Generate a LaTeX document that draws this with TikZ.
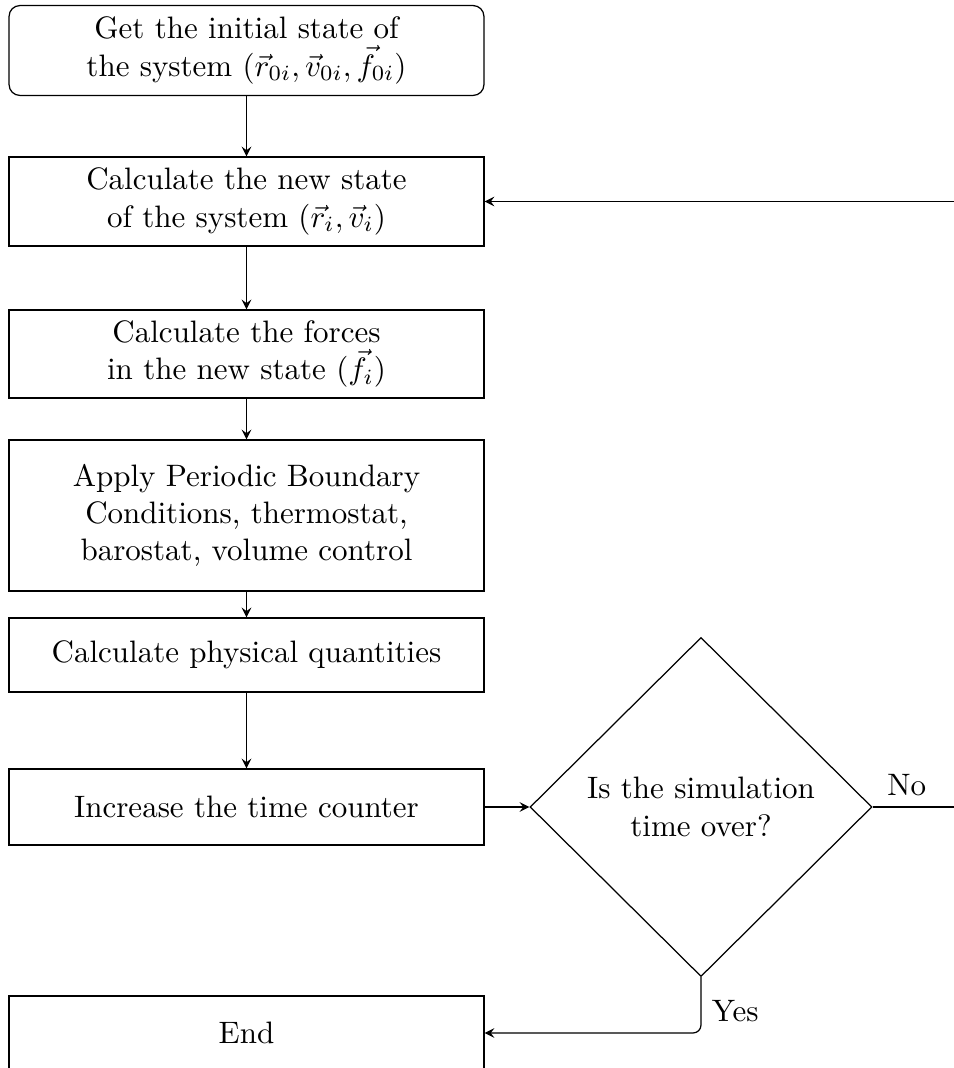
\documentclass[tikz,border=0pt]{standalone}
\usetikzlibrary{shapes.geometric,arrows}
\begin{document}
\begin{tikzpicture}[x=0.3226pt,y=-0.3226pt,
  block/.style={draw, rectangle, minimum width=153.2pt, inner sep=2pt, align=center},
  blockr/.style={block, rounded corners=3.5pt},
  dec/.style={draw, diamond, minimum width=110.3pt, minimum height=109.4pt, inner sep=0pt, align=center},
  arr/.style={-stealth}]
\useasboundingbox (0,0) rectangle (954,1068);
\clip (0,0) rectangle (954,1068);
\node[blockr, minimum height=29pt] (init) at (246.5,50.5) {Get the initial state of\\the system $(\vec{r}_{0i},\vec{v}_{0i},\vec{f}_{0i})$};
\node[block, minimum height=28.7pt] (new) at (246.5,201.5) {Calculate the new state\\of the system $(\vec{r}_{i},\vec{v}_{i})$};
\node[block, minimum height=28.4pt] (forces) at (246.5,354) {Calculate the forces\\in the new state $(\vec{f}_{i})$};
\node[block, minimum height=48.7pt] (pbc) at (246.5,515.5) {Apply Periodic Boundary\\Conditions, thermostat,\\barostat, volume control};
\node[block, minimum height=23.9pt] (phys) at (246.5,655) {Calculate physical quantities};
\node[block, minimum height=24.5pt] (time) at (246.5,807) {Increase the time counter};
\node[dec] (check) at (701,807) {Is the simulation\\time over?};
\node[block, minimum height=23.9pt] (end) at (246.5,1033) {End};
\coordinate (loop) at (990,807);
\draw[arr] (init) -- (new);
\draw[arr] (new) -- (forces);
\draw[arr] (forces) -- (pbc);
\draw[arr] (pbc) -- (phys);
\draw[arr] (phys) -- (time);
\draw[arr] (time) -- (check);
\draw[arr] (check.east) -- node[pos=0.29, above] {No} (loop) |- (new.east);
\draw[arr, rounded corners=2.6pt] (check.south) |- node[pos=0.3, right] {Yes} (end.east);
\end{tikzpicture}
\end{document}
